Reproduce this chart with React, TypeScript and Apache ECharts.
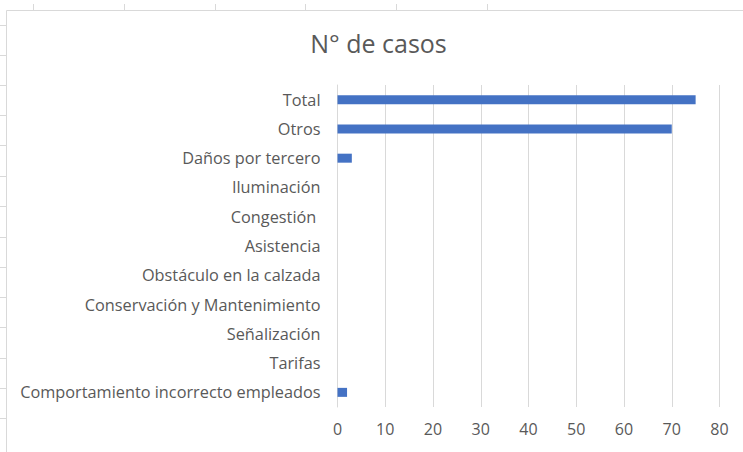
import React, { useEffect, useRef } from "react";
import * as echarts from "echarts";

const categories = [
  "Total",
  "Otros",
  "Daños por tercero",
  "Iluminación",
  "Congestión ",
  "Asistencia",
  "Obstáculo en la calzada",
  "Conservación y Mantenimiento",
  "Señalización",
  "Tarifas",
  "Comportamiento incorrecto empleados",
];
const values = [75, 70, 3, 0, 0, 0, 0, 0, 0, 0, 2];
const xTicks = { min: 0, max: 80, interval: 10 };
const title = "N° de casos";

const topCellTicks = [33, 124, 215, 305, 396, 487];
const leftCellTicks = [25, 55, 85, 115, 145, 176, 206, 237, 267, 297, 327, 358, 388, 418];

export default function App() {
  const ref = useRef<HTMLDivElement>(null);
  useEffect(() => {
    if (!ref.current) return;
    const chart = echarts.init(ref.current, null, { renderer: "svg" });
    const font = "'Open Sans', Calibri, sans-serif";
    const graphics: any[] = [
      {
        type: "rect",
        shape: { x: 6.5, y: 10.5, width: 800, height: 500 },
        style: { fill: "none", stroke: "#d9d9d9", lineWidth: 1 },
        silent: true,
      },
    ];
    topCellTicks.forEach((x) =>
      graphics.push({
        type: "line",
        shape: { x1: x + 0.5, y1: 4, x2: x + 0.5, y2: 10 },
        style: { stroke: "#d9d9d9", lineWidth: 1 },
        silent: true,
      })
    );
    leftCellTicks.forEach((y) =>
      graphics.push({
        type: "line",
        shape: { x1: 0, y1: y + 0.5, x2: 6, y2: y + 0.5 },
        style: { stroke: "#d9d9d9", lineWidth: 1 },
        silent: true,
      })
    );
    chart.setOption({
      animation: false,
      backgroundColor: "#ffffff",
      title: {
        text: title,
        left: 373.5,
        textAlign: "center",
        top: 25,
        textStyle: { fontFamily: font, fontSize: 25, fontWeight: "normal", color: "#595959" },
      },
      graphic: graphics,
      grid: { left: 337.5, right: 23.5, top: 85, bottom: 45, containLabel: false },
      xAxis: {
        type: "value",
        min: xTicks.min,
        max: xTicks.max,
        interval: xTicks.interval,
        axisLine: { show: false },
        axisTick: { show: false },
        axisLabel: { color: "#595959", fontFamily: font, fontSize: 16, margin: 14 },
        splitLine: { show: true, lineStyle: { color: "#d9d9d9", width: 1 } },
      },
      yAxis: {
        type: "category",
        data: categories,
        inverse: true,
        axisLine: { show: true, lineStyle: { color: "#d9d9d9" } },
        axisTick: { show: false },
        axisLabel: { color: "#595959", fontFamily: font, fontSize: 16.3, margin: 17 },
      },
      series: [
        {
          type: "bar",
          data: values,
          barWidth: 9,
          itemStyle: { color: "#4472C4" },
        },
      ],
    });
    return () => chart.dispose();
  }, []);
  return (
    <div
      ref={ref}
      style={{ position: "fixed", left: 0, top: 0, width: 743, height: 452 }}
    />
  );
}
